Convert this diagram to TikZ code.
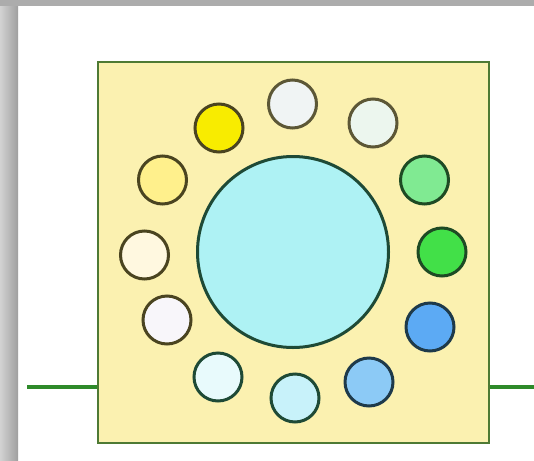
\documentclass[tikz,border=0pt]{standalone}
\begin{document}
\begin{tikzpicture}[x=1pt,y=-1pt,
  dot/.style={circle,draw,line width=3pt,minimum size=48pt,inner sep=0pt},
  wire/.style={draw=wireC,line width=3.4pt}]
\definecolor{boxF}{HTML}{FBF1B0}
\definecolor{boxD}{HTML}{4E7A34}
\definecolor{wireC}{HTML}{2E8A2A}
\definecolor{bigF}{HTML}{AEF2F4}
\definecolor{bigD}{HTML}{1E4A36}
\definecolor{olive}{HTML}{4A4420}
\definecolor{dgreen}{HTML}{1E4A24}
\definecolor{navy}{HTML}{1E3A4A}
\useasboundingbox (0,0) rectangle (534,460);
\fill[white] (0,0) rectangle (534,460);
% frame
\shade[left color=gray!35,right color=gray!75] (0,0) rectangle (18,460);
\fill[gray!65] (0,0) rectangle (534,6);
% box
\node[draw=boxD,fill=boxF,line width=2.6pt,minimum width=391pt,minimum height=381pt,inner sep=0pt] (box) at (293.5,252.5) {};
\coordinate (lend) at (27,387);
\coordinate (rend) at (534,387);
\draw[wire] (lend) -- (lend -| box.west);
\draw[wire] (rend -| box.east) -- (rend);
% big circle
\node[circle,draw=bigD,fill=bigF,line width=3pt,minimum size=191pt,inner sep=0pt] (big) at (293,252) {};
% small circles
\node[dot,draw=olive!90,fill={rgb,255:red,240;green,244;blue,244}] (c1) at (292.5,104) {};
\node[dot,draw=olive!90,fill={rgb,255:red,236;green,246;blue,238}] (c2) at (373,123) {};
\node[dot,draw=dgreen,fill={rgb,255:red,128;green,234;blue,146}] (c3) at (424.5,180) {};
\node[dot,draw=dgreen,fill={rgb,255:red,66;green,224;blue,72}] (c4) at (442,252) {};
\node[dot,draw=navy,fill={rgb,255:red,92;green,170;blue,244}] (c5) at (430,327) {};
\node[dot,draw=navy,fill={rgb,255:red,140;green,202;blue,246}] (c6) at (369,382) {};
\node[dot,draw=bigD,fill={rgb,255:red,200;green,242;blue,250}] (c7) at (295,398) {};
\node[dot,draw=bigD,fill={rgb,255:red,232;green,250;blue,252}] (c8) at (218,377) {};
\node[dot,draw=olive,fill={rgb,255:red,248;green,246;blue,250}] (c9) at (167,320) {};
\node[dot,draw=olive,fill={rgb,255:red,255;green,248;blue,224}] (c10) at (144.5,255) {};
\node[dot,draw=olive,fill={rgb,255:red,255;green,240;blue,140}] (c11) at (162.5,180) {};
\node[dot,draw=olive,fill={rgb,255:red,248;green,236;blue,0}] (c12) at (219,128) {};
\end{tikzpicture}
\end{document}
